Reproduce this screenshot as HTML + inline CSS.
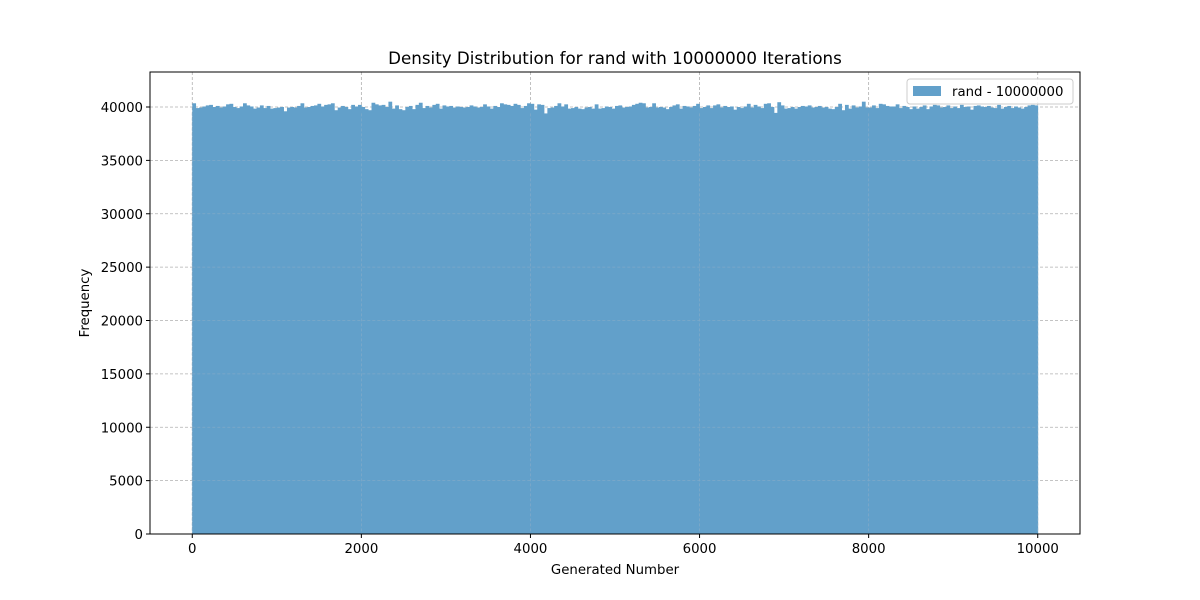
<!DOCTYPE html>
<html><head><meta charset="utf-8"><style>
body{margin:0;background:#fff}
svg{display:block;font-family:"DejaVu Sans","Liberation Sans",sans-serif}
</style></head><body>
<svg id="chart" width="1200" height="600">
<defs><clipPath id="below"><rect x="150" y="0" width="930" height="534"/></clipPath></defs>
<rect width="1200" height="600" fill="#fff"/>
<g id="grid"></g><g id="bars"></g><g id="grid2"></g><g id="axes"></g>
</svg>
<script>
const binStart = 0;
const binWidth = 40;
const counts = [
40350,39900,39950,40050,40150,40200,40000,40100,39950,40050,40250,40300,40000,39900,40050,40350,40150,40050,39850,39950,40150,39900,40100,39850,39900,
39950,40000,39600,39950,40000,39950,40100,40350,39950,40000,40100,40150,40300,40050,40200,40250,40350,39700,39950,40100,40000,39800,40200,40050,40200,
40000,39800,39700,40400,40250,40150,40200,40000,40500,39850,40150,39800,39700,40000,40100,39800,40200,40400,39900,40100,39950,40200,40300,39850,40150,
40050,40100,39950,40050,40000,39950,40000,40150,40050,39950,40000,40250,40050,39850,40100,40000,40350,40250,40200,40100,40300,40200,39900,40100,40350,
40300,39750,40250,40200,39400,39900,39950,40100,40350,40050,40250,39850,39900,40000,39850,39800,39950,40000,39850,40250,39850,39900,40050,40000,39850,
40100,40150,39950,40000,40050,40200,40300,40400,40350,39950,40000,40350,39950,40000,39950,39800,40000,40150,40250,39850,40100,40050,39950,40100,40300,
39900,40000,40150,39900,40150,40250,39950,40100,40000,40050,39750,40000,39900,40050,40300,39950,40200,40050,39900,40300,40350,40000,39450,40450,40150,
39850,39900,40000,39850,40000,40100,40050,40150,39950,40000,40100,39950,40000,39850,39800,40000,40300,39700,40200,39850,40150,39950,40050,40500,39950,
39950,40150,39900,40300,40250,40100,40050,40050,40250,39900,40100,40000,39800,40050,39850,40000,40150,39800,40050,40200,40150,39950,40000,40150,39900,
40050,39900,40200,40000,40050,39750,40100,40150,40050,40000,40100,39950,39900,40200,39850,40000,40100,39900,40050,39950,39850,40000,40150,40200,40150
];
const xTicks = [0,2000,4000,6000,8000,10000];
const yTicks = [0,5000,10000,15000,20000,25000,30000,35000,40000];

const L=150,R=1080,T=72,B=534;
const xMin=-500,xMax=10500,yMin=0,yMax=43280;
const sx=v=>L+(v-xMin)/(xMax-xMin)*(R-L);
const sy=v=>B-(v-yMin)/(yMax-yMin)*(B-T);
const NS="http://www.w3.org/2000/svg";
function mk(tag,attrs,parent){const e=document.createElementNS(NS,tag);for(const k in attrs)e.setAttribute(k,attrs[k]);parent.appendChild(e);return e;}
const grid=document.getElementById('grid'),bars=document.getElementById('bars'),grid2=document.getElementById('grid2'),axes=document.getElementById('axes');
const minC=Math.min(...counts);
grid2.setAttribute('clip-path','url(#below)');

xTicks.forEach(t=>{const l=mk('line',{x1:sx(t),x2:sx(t),y1:T,y2:B,stroke:'#b0b0b0','stroke-dasharray':'3,2','stroke-width':0.8},grid);


if(t>=binStart&&t<=binStart+counts.length*binWidth){const o=mk('line',{x1:sx(t),x2:sx(t),y1:sy(minC),y2:B,stroke:'#7fa9c8','stroke-dasharray':'3,2','stroke-width':0.8},grid2);

}});
yTicks.forEach(t=>{const l=mk('line',{x1:L,x2:R,y1:sy(t),y2:sy(t),stroke:'#b0b0b0','stroke-dasharray':'3,2','stroke-width':0.8},grid);


if(t<minC){const o=mk('line',{x1:sx(binStart),x2:sx(binStart+counts.length*binWidth),y1:sy(t),y2:sy(t),stroke:'#7fa9c8','stroke-dasharray':'3,2','stroke-width':0.8},grid2);

}});

counts.forEach((c,i)=>{const x0=sx(binStart+i*binWidth),x1=sx(binStart+(i+1)*binWidth);
const r=mk('rect',{x:x0,y:sy(c),width:x1-x0+0.4,height:sy(0)-sy(c),fill:'#62a0ca'},bars);

});

mk('rect',{x:L,y:T,width:R-L,height:B-T,fill:'none',stroke:'#000','stroke-width':1},axes);
xTicks.forEach(t=>{mk('line',{x1:sx(t),x2:sx(t),y1:B,y2:B+4,stroke:'#000'},axes);
const tx=mk('text',{x:sx(t),y:B+19,'text-anchor':'middle','font-size':13.3},axes);tx.textContent=t;

});
yTicks.forEach(t=>{mk('line',{x1:L-4,x2:L,y1:sy(t),y2:sy(t),stroke:'#000'},axes);
const tx=mk('text',{x:L-7,y:sy(t)+5,'text-anchor':'end','font-size':13.3},axes);tx.textContent=t;

});
</script>
<svg style="position:absolute;left:0;top:0" width="1200" height="600">
<text x="615" y="64" text-anchor="middle" font-size="16.7">Density Distribution for rand with 10000000 Iterations</text>
<text x="615" y="574" text-anchor="middle" font-size="13.3">Generated Number</text>
<text x="0" y="0" transform="translate(89,303) rotate(-90)" text-anchor="middle" font-size="13.3">Frequency</text>
<g>
<rect x="907" y="79" width="166" height="25" rx="3" fill="#fff" fill-opacity="0.8" stroke="#ccc"/>
<rect x="913" y="86" width="28" height="10" fill="#62a0ca"/>
<text x="952" y="96" font-size="13.3">rand - 10000000</text>
</g>
</svg>
</body></html>
